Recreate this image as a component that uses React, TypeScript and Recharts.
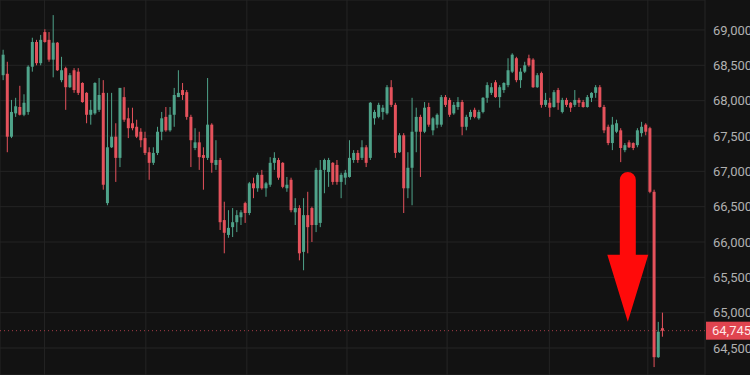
import { ComposedChart, Bar, XAxis, YAxis, CartesianGrid, ReferenceLine } from "recharts";

// OHLC per candle (oldest → newest)
const opens = [
  68360, 68380, 67490, 67820, 67910, 67800, 67840, 68480, 68830, 68530,
  68970, 68860, 68580, 68820, 68290, 68460, 68190, 68430, 68410, 68250,
  68110, 67800, 67820, 67870, 68110, 66550, 67340, 67490, 67190, 68050,
  67750, 67680, 67630, 67560, 67470, 67270, 67120, 67260, 67560, 67770,
  67580, 67800, 68050, 68150, 68120, 67770, 67330, 67410, 67230, 67190,
  67660, 67090, 67160, 66310, 66100, 66210, 66280, 66350, 66550, 66410,
  66830, 66760, 66950, 66760, 66810, 67120, 67160, 67120, 66760, 66880,
  66420, 66480, 65860, 66380, 66480, 66240, 66270, 67020, 66990, 67120,
  67090, 66850, 66910, 66920, 67160, 67260, 67190, 67340, 67190, 67750,
  67770, 67840, 67820, 68190, 67940, 67270, 67510, 66760, 67050, 67560,
  67770, 67560, 67910, 67580, 67660, 67660, 68050, 68010, 67820, 67910,
  67980, 67630, 67770, 67870, 67750, 67840, 68040, 68110, 68260, 68050,
  68150, 68220, 68410, 68600, 68290, 68410, 68600, 68580, 68190, 68390,
  67940, 67970, 67910, 68150, 67840, 68010, 67970, 67940, 68010, 67980,
  67910, 68040, 68110, 68190, 67910, 67630, 67400, 67560, 67580, 67300,
  67410, 67400, 67370, 67540, 67660, 67610, 66710, 64370, 64780,
];
const highs = [
  68720, 68550, 68010, 68040, 68210, 68090, 68500, 68890, 68860, 68930,
  69010, 68970, 69210, 68830, 68620, 68480, 68390, 68460, 68460, 68260,
  68120, 68010, 68260, 68320, 68290, 68110, 68110, 67680, 68180, 68190,
  67900, 67900, 67730, 67610, 67560, 67340, 67340, 67630, 67840, 67910,
  67910, 68180, 68430, 68250, 68150, 67800, 67610, 67560, 67340, 68320,
  67680, 67440, 67190, 66570, 66450, 66480, 66450, 66450, 66570, 66850,
  66910, 66980, 67020, 66850, 67200, 67270, 67190, 67130, 66920, 66910,
  66620, 66520, 66620, 66710, 66500, 67050, 67160, 67180, 67190, 67130,
  67160, 66980, 67020, 67440, 67300, 67300, 67440, 67370, 67980, 67870,
  67970, 67940, 68220, 68290, 67970, 67540, 67540, 67270, 68040, 67900,
  67800, 67980, 67970, 67770, 67820, 68080, 68080, 68040, 67980, 68050,
  68010, 67800, 67870, 67900, 67870, 68050, 68260, 68250, 68290, 68220,
  68260, 68600, 68670, 68620, 68460, 68550, 68650, 68600, 68390, 68410,
  68110, 68040, 68150, 68180, 68040, 68040, 67980, 68150, 68040, 68010,
  68080, 68120, 68220, 68220, 67940, 67660, 67770, 67730, 67610, 67400,
  67440, 67410, 67610, 67700, 67680, 67630, 66740, 64870, 65000,
];
const lows = [
  68290, 67270, 67470, 67770, 67790, 67780, 67800, 68410, 68500, 68500,
  68820, 68550, 68330, 68420, 68260, 67870, 68180, 68110, 68080, 67970,
  67680, 67660, 67800, 67840, 66740, 66520, 67330, 66850, 67060, 67700,
  67470, 67580, 67470, 67340, 67230, 66880, 67090, 67230, 67440, 67560,
  67560, 67630, 68050, 68010, 67730, 67060, 67300, 67020, 66740, 67160,
  66980, 67020, 66170, 65840, 66060, 66070, 66140, 66240, 66270, 66380,
  66620, 66710, 66740, 66640, 66780, 67020, 66880, 66760, 66710, 66420,
  66240, 65740, 65600, 65840, 66000, 66140, 66210, 66690, 66780, 66810,
  66810, 66620, 66810, 66910, 67120, 67120, 67160, 67060, 67160, 67660,
  67750, 67730, 67800, 67910, 67190, 67260, 66410, 66620, 66520, 67270,
  66920, 67540, 67630, 67510, 67610, 67630, 67910, 67770, 67800, 67870,
  67510, 67580, 67730, 67750, 67730, 67820, 67970, 68080, 68040, 67900,
  68110, 68190, 68390, 68260, 68180, 68390, 68480, 68180, 68180, 67900,
  67910, 67770, 67900, 67870, 67820, 67910, 67840, 67910, 67910, 67900,
  67900, 67980, 68040, 67900, 67540, 67370, 67300, 67540, 67130, 67270,
  67330, 67300, 67340, 67490, 67510, 66690, 64230, 64360, 64660,
];
const closes = [
  68650, 67490, 67840, 67920, 67800, 67970, 68480, 68830, 68530, 68860,
  68830, 68580, 68820, 68430, 68430, 68190, 68360, 68150, 68110, 67980,
  67800, 67870, 68250, 68080, 66810, 67340, 67490, 67190, 68180, 67730,
  67610, 67610, 67490, 67440, 67260, 67120, 67260, 67560, 67750, 67580,
  67800, 68080, 68110, 68080, 67770, 67440, 67410, 67200, 67190, 67660,
  67120, 67160, 66280, 66130, 66200, 66280, 66380, 66420, 66410, 66830,
  66760, 66950, 66760, 66830, 67120, 67190, 66910, 66780, 66810, 66450,
  66480, 65840, 66380, 66210, 66240, 67020, 67020, 67160, 67160, 66850,
  66850, 66950, 66980, 67190, 67260, 67160, 67340, 67120, 67970, 67840,
  67940, 67900, 68190, 67940, 67260, 67510, 66760, 67050, 67560, 67770,
  67560, 67900, 67660, 67750, 67800, 68050, 67940, 67800, 67940, 67980,
  67630, 67770, 67840, 67770, 67840, 68040, 68220, 68190, 68050, 68190,
  68250, 68430, 68650, 68290, 68410, 68500, 68500, 68190, 68360, 67940,
  68010, 67900, 68120, 67970, 68010, 67940, 67900, 68010, 67970, 67910,
  68050, 68110, 68190, 67910, 67580, 67400, 67660, 67680, 67330, 67370,
  67340, 67330, 67580, 67630, 67560, 66710, 64370, 64730, 64745,
];

const priceTicks = [64500, 65000, 65500, 66000, 66500, 67000, 67500, 68000, 68500, 69000];
const timeGrid = [10, 34.3, 58.5, 82.5, 106.5, 131, 154.6];
const lastPrice = 64745;

const UP = "#4fa38a";
const DOWN = "#e5525c";

const data = opens.map((o, i) => ({
  idx: i,
  open: o,
  high: highs[i],
  low: lows[i],
  close: closes[i],
  range: [lows[i], highs[i]],
}));

const Candle = (props: any) => {
  const { x, y, width, height, payload } = props;
  if (!payload) return null;
  const top = Math.min(y, y + height);
  const h = Math.abs(height);
  const { open, close, high, low } = payload;
  const k = h / (high - low || 1);
  const cx = x + width / 2;
  const bTop = top + (high - Math.max(open, close)) * k;
  const bBot = top + (high - Math.min(open, close)) * k;
  const color = close >= open ? UP : DOWN;
  return (
    <g>
      <line x1={cx} x2={cx} y1={top} y2={top + h} stroke={color} strokeWidth={1} />
      <rect x={cx - 1.5} y={bTop} width={3} height={Math.max(bBot - bTop, 1)} fill={color} />
    </g>
  );
};

const Arrow = (props: any) => {
  const { x1, y1, y2 } = props;
  const x = x1;
  const base = y2 - 67;
  const d = `M ${x - 8} ${y1 + 8} A 8 8 0 0 1 ${x + 8} ${y1 + 8} L ${x + 8} ${base} L ${x + 20.5} ${base} L ${x} ${y2} L ${x - 20.5} ${base} L ${x - 8} ${base} Z`;
  return <path d={d} fill="#ff0a0a" />;
};

const PriceTag = (props: any) => {
  const { viewBox } = props;
  if (!viewBox) return null;
  const left = viewBox.x + viewBox.width + 1;
  return (
    <g>
      <rect x={left} y={viewBox.y - 9} width={50} height={18} fill="#e0444f" />
      <text x={left + 6} y={viewBox.y} dy="0.36em" fill="#ffe6e6" fontSize={13} fontFamily="Roboto, sans-serif">
        64,745
      </text>
    </g>
  );
};

export default function App() {
  return (
    <div style={{ position: "absolute", left: 0, top: 0, width: 750, height: 375, background: "#121212" }}>
      <ComposedChart width={750} height={375} data={data} margin={{ top: 0, right: 0, bottom: 0, left: 0 }}>
        <CartesianGrid stroke="#242424" strokeWidth={1} />
        <XAxis
          dataKey="idx"
          type="number"
          domain={[-0.65, 168.3]}
          ticks={timeGrid}
          allowDataOverflow
          hide
        />
        <YAxis
          orientation="right"
          width={45}
          domain={[64118, 69424]}
          ticks={priceTicks}
          allowDataOverflow
          axisLine={false}
          tickLine={false}
          tickSize={0}
          tickMargin={8}
          tickFormatter={(v: number) => v.toLocaleString("en-US")}
          tick={{ fill: "#b0b0b0", fontSize: 13, fontFamily: "Roboto, sans-serif", textAnchor: "start" }}
        />
        <ReferenceLine
          y={lastPrice}
          stroke="#a53d48"
          strokeDasharray="1 3"
          label={<PriceTag />}
        />
        <Bar dataKey="range" barSize={3} shape={<Candle />} isAnimationActive={false} />
        <ReferenceLine
          segment={[
            { x: 149.8, y: 66990 },
            { x: 149.8, y: 64870 },
          ]}
          shape={<Arrow />}
        />
      </ComposedChart>
    </div>
  );
}
